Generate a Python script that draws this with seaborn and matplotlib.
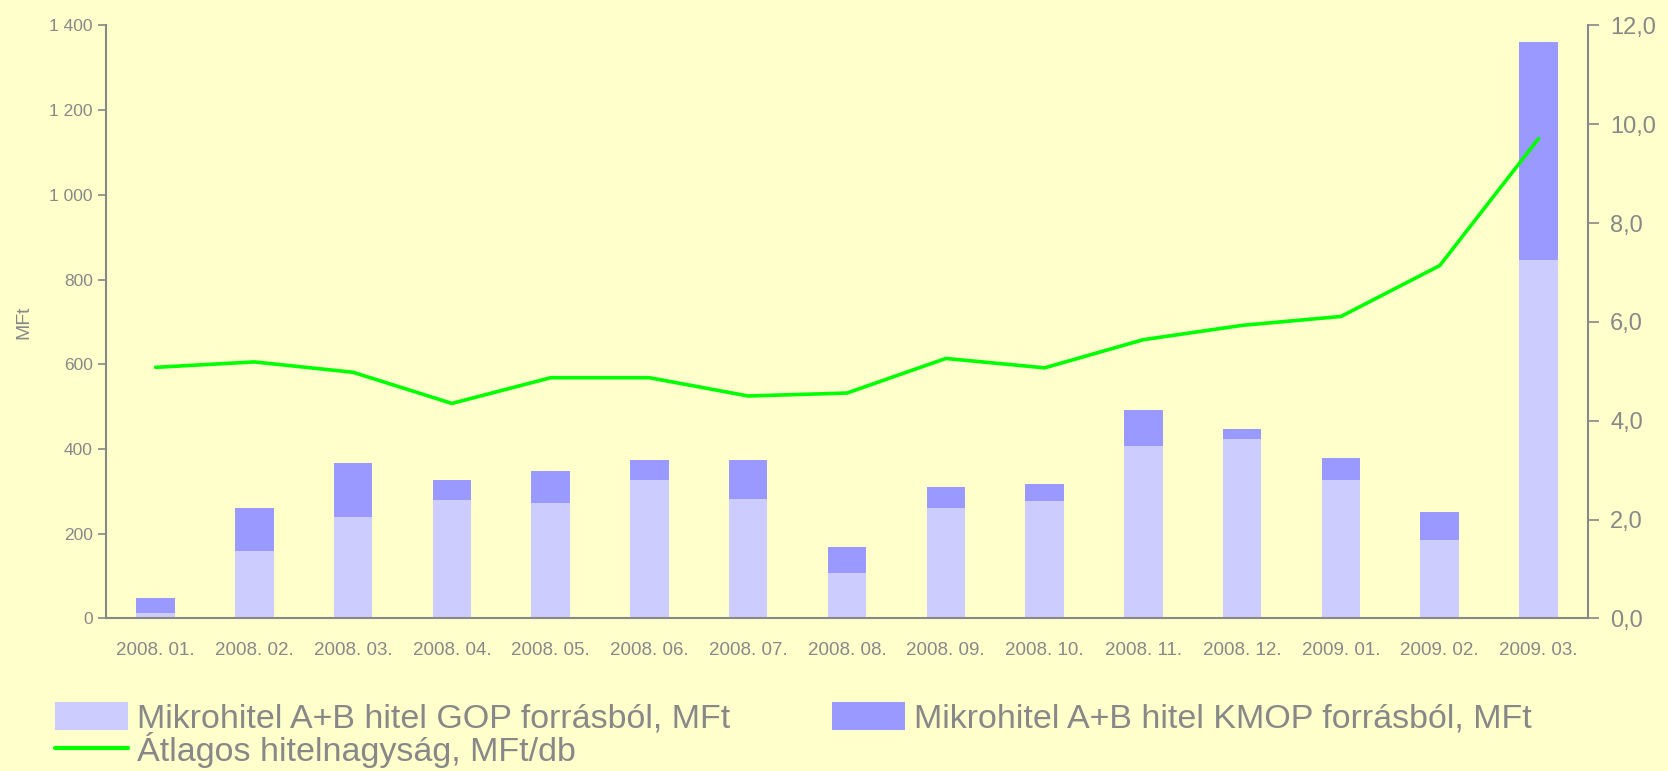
import numpy as np
import pandas as pd
import matplotlib
matplotlib.use("Agg")
import matplotlib.pyplot as plt
import seaborn as sns
from matplotlib.patches import Patch
from matplotlib.lines import Line2D
from matplotlib.ticker import FuncFormatter, MultipleLocator

months = ["2008. 01.", "2008. 02.", "2008. 03.", "2008. 04.", "2008. 05.",
          "2008. 06.", "2008. 07.", "2008. 08.", "2008. 09.", "2008. 10.",
          "2008. 11.", "2008. 12.", "2009. 01.", "2009. 02.", "2009. 03."]
gop = [13, 159, 239, 279, 272, 327, 281, 108, 261, 276, 406, 424, 326, 184, 847]
kmop = [35, 101, 127, 47, 75, 47, 93, 60, 48, 41, 87, 22, 53, 68, 514]
avg_size = [5.08, 5.19, 4.98, 4.35, 4.87, 4.87, 4.50, 4.56, 5.26, 5.07,
            5.64, 5.93, 6.11, 7.14, 9.71]

BG = "#FFFFCC"
GREY = "#888888"

sns.set_theme(style="white")
plt.rcParams["font.family"] = ["Liberation Sans", "DejaVu Sans"]

df = pd.DataFrame({"honap": months, "gop": gop, "kmop": kmop, "atlag": avg_size})
df["total"] = df["gop"] + df["kmop"]

fig = plt.figure(figsize=(16.68, 7.71), dpi=100, facecolor=BG)
ax = fig.add_axes([0.0636, 0.198, 0.952 - 0.0636, 0.967 - 0.198])
ax.set_facecolor(BG)

# stacked bars: total first (KMOP colour), GOP part on top of it
sns.barplot(data=df, x="honap", y="total", color="#9999FF", width=0.39,
            linewidth=0, saturation=1, ax=ax)
sns.barplot(data=df, x="honap", y="gop", color="#CCCCFF", width=0.39,
            linewidth=0, saturation=1, ax=ax)

ax.set_xlim(-0.5, len(months) - 0.5)
ax.set_ylim(0, 1400)
ax.yaxis.set_major_locator(MultipleLocator(200))
ax.yaxis.set_major_formatter(FuncFormatter(lambda v, p: f"{int(v):,}".replace(",", " ")))
ax.set_xlabel("")
ax.set_ylabel("MFt", color=GREY, fontsize=14, labelpad=12)
ax.set_xticks(np.arange(-0.5, len(months)), minor=True)
ax.tick_params(axis="x", which="major", length=0, pad=17, labelsize=13.5, labelcolor=GREY)
ax.tick_params(axis="x", which="minor", length=6, width=1.2, color=GREY, direction="out")
ax.tick_params(axis="y", length=6, width=1.2, color=GREY, labelsize=12.5, labelcolor=GREY,
               direction="out", left=True)
for s in ["top", "right"]:
    ax.spines[s].set_visible(False)
for s in ["left", "bottom"]:
    ax.spines[s].set_color(GREY)
    ax.spines[s].set_linewidth(1.5)

ax2 = ax.twinx()
sns.lineplot(x=np.arange(len(months)), y=df["atlag"], color="#00FF00", linewidth=2.6, ax=ax2)
ax2.set_ylim(0, 12)
ax2.set_xlim(-0.5, len(months) - 0.5)
ax2.yaxis.set_major_locator(MultipleLocator(2))
ax2.yaxis.set_major_formatter(FuncFormatter(lambda v, p: f"{v:.1f}".replace(".", ",")))
ax2.set_ylabel("")
ax2.tick_params(axis="y", length=8, width=1.2, color=GREY, labelsize=17, labelcolor=GREY,
                direction="out", right=True, pad=8)
for s in ["top", "left", "bottom"]:
    ax2.spines[s].set_visible(False)
ax2.spines["right"].set_color(GREY)
ax2.spines["right"].set_linewidth(1.5)

handles = [Patch(facecolor="#CCCCFF", edgecolor="none"),
           Line2D([], [], color="#00FF00", linewidth=3),
           Patch(facecolor="#9999FF", edgecolor="none")]
labels = ["Mikrohitel A+B hitel GOP forrásból, MFt",
          "Átlagos hitelnagyság, MFt/db",
          "Mikrohitel A+B hitel KMOP forrásból, MFt"]
fig.legend(handles, labels, ncol=2, loc="upper left", bbox_to_anchor=(0.025, 0.107),
           frameon=False, fontsize=24.5, labelcolor=GREY, handlelength=2.15,
           handleheight=0.87, handletextpad=0.25, columnspacing=3.0,
           labelspacing=-0.08, borderaxespad=0)

fig.savefig("out.png", dpi=100, facecolor=BG)
